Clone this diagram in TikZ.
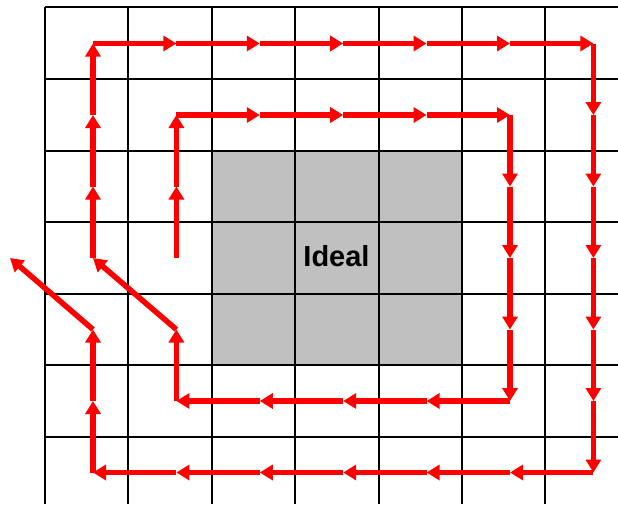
\documentclass[tikz,border=0pt]{standalone}
\usepackage{fontspec}
\setmainfont{Liberation Sans}
\usetikzlibrary{arrows.meta}
\definecolor{idealgray}{RGB}{192,192,192}
\begin{document}
\begin{tikzpicture}[x=1pt,y=-1pt,
  gridline/.style={line width=1.6pt,black},
  seg/.style={draw=red,line width=5.5pt,-{Triangle[length=13pt,width=15pt]}},
  lbl/.style={font=\bfseries\fontsize{29}{30}\selectfont,inner sep=0pt}]
\useasboundingbox (0,0) rectangle (618,504);
% ideal region
\fill[idealgray] (212,151) rectangle (462,365);
% grid
\foreach \x in {45,128,212,295,379,462,545} \draw[gridline] (\x,7) -- (\x,504);
\foreach \y in {7,79,151,222,294,365,437} \draw[gridline] (45,\y) -- (618,\y);
\node[lbl] (ideal) at (336.5,256.5) {Ideal};
% path points
\foreach \i in {0,...,6} \foreach \j in {0,...,6}
  \coordinate (p-\i-\j) at ({93+83.4*\i},{43.5+71.5*\j});
\coordinate (out) at (10,258);
% outer spiral
\foreach \a/\b in {0-3/0-2,0-2/0-1,0-1/0-0,
  0-0/1-0,1-0/2-0,2-0/3-0,3-0/4-0,4-0/5-0,5-0/6-0,
  6-0/6-1,6-1/6-2,6-2/6-3,6-3/6-4,6-4/6-5,6-5/6-6,
  6-6/5-6,5-6/4-6,4-6/3-6,3-6/2-6,2-6/1-6,1-6/0-6,
  0-6/0-5,0-5/0-4}
  \draw[seg] (p-\a) -- (p-\b);
\draw[seg] (p-0-4) -- (out);
% inner spiral
\foreach \a/\b in {1-3/1-2,1-2/1-1,
  1-1/2-1,2-1/3-1,3-1/4-1,4-1/5-1,
  5-1/5-2,5-2/5-3,5-3/5-4,5-4/5-5,
  5-5/4-5,4-5/3-5,3-5/2-5,2-5/1-5,
  1-5/1-4,1-4/0-3}
  \draw[seg] (p-\a) -- (p-\b);
\end{tikzpicture}
\end{document}
